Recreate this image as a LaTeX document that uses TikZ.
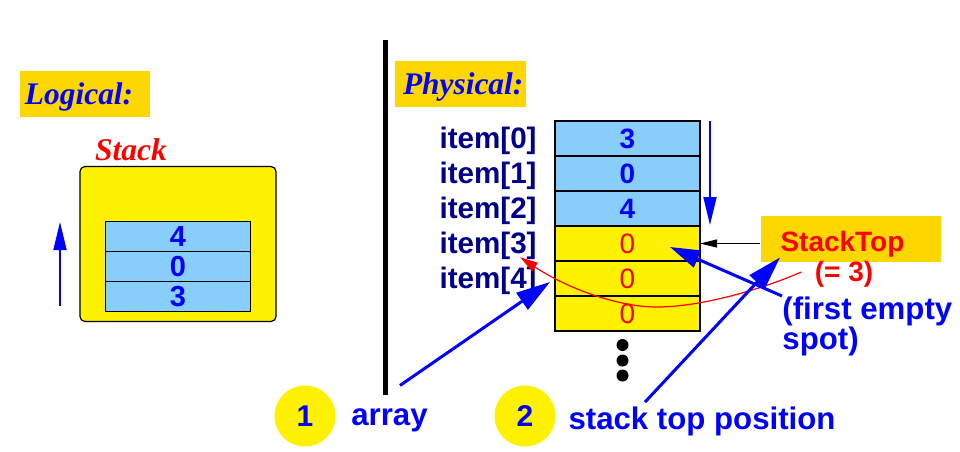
\documentclass[tikz,border=0pt]{standalone}
\usepackage{fontspec}
\setmainfont{Liberation Serif}
\setsansfont{Liberation Sans}
\usepackage{tikz}
\usetikzlibrary{arrows.meta,positioning}
\definecolor{gold}{RGB}{255,215,0}
\definecolor{cellblue}{RGB}{135,206,250}
\definecolor{itemblue}{RGB}{0,0,139}

\begin{document}
\begin{tikzpicture}[x=0.5pt,y=-0.5pt,
  >={Triangle[length=14pt,width=6.5pt]},
  heading/.style={fill=gold,text=blue,minimum height=23pt,align=left,text height=10.5pt,text depth=0pt,font=\fontsize{15.7}{18}\selectfont\bfseries\itshape},
  cell/.style={draw,line width=0.6pt,minimum width=72.5pt,minimum height=17.5pt,outer sep=0pt,inner sep=0pt},
  fullcell/.style={cell,fill=cellblue,text=blue,font=\fontsize{14}{15}\selectfont\sffamily\bfseries},
  freecell/.style={cell,fill=yellow,text=red,font=\fontsize{14}{15}\selectfont\sffamily},
  itemlbl/.style={inner sep=0pt,text=itemblue,font=\fontsize{14.8}{17}\selectfont\sffamily\bfseries},
  note/.style={inner sep=0pt,text=blue,font=\fontsize{15.6}{15}\selectfont\sffamily\bfseries},
  badge/.style={circle,fill=yellow,minimum size=30.5pt,inner sep=0pt,text=blue,font=\fontsize{15}{17}\selectfont\sffamily\bfseries},
  dot/.style={circle,fill=black,minimum size=6pt,inner sep=0pt},
  pointer/.style={->,blue,line width=0.9pt},
  fat/.style={->,>={Triangle[length=17pt,width=10pt]},blue,line width=1.5pt}]
  \useasboundingbox (0,0) rectangle (960,451);

  % logical view
  \node[heading,text width=60pt,inner xsep=2.5pt] (logical) at (85,94) {Logical:};
  \node[draw,fill=yellow,rounded corners=2.5pt,line width=0.6pt,minimum width=98pt,minimum height=77.5pt] (stackbox) at (178,244) {};
  \node[inner sep=0pt,text=red,font=\fontsize{15.8}{18}\selectfont\bfseries\itshape] (stacklbl) at (131,150) {Stack};
  \node[fullcell,minimum height=15pt,font=\fontsize{14.5}{15}\selectfont\sffamily\bfseries] (lcell1) at (178,236.5) {4};
  \node[fullcell,minimum height=15pt,font=\fontsize{14.5}{15}\selectfont\sffamily\bfseries,below=0pt of lcell1] (lcell2) {0};
  \node[fullcell,minimum height=15pt,font=\fontsize{14.5}{15}\selectfont\sffamily\bfseries,below=0pt of lcell2] (lcell3) {3};
  \coordinate (pushlo) at (60,306);
  \coordinate (pushhi) at (60,222);
  \draw[pointer] (pushlo) -- (pushhi);

  % divider
  \coordinate (divtop) at (385.5,40);
  \coordinate (divbot) at (385.5,395);
  \draw[line width=2.2pt] (divtop) -- (divbot);

  % physical view
  \node[heading,text width=57.5pt,inner xsep=4pt] (physical) at (460.5,84) {Physical:};
  \node[fullcell] (cell0) at (627.5,138.5) {3};
  \node[fullcell,below=0pt of cell0] (cell1) {0};
  \node[fullcell,below=0pt of cell1] (cell2) {4};
  \node[freecell,below=0pt of cell2] (cell3) {0};
  \node[freecell,below=0pt of cell3] (cell4) {0};
  \node[freecell,below=0pt of cell4] (cell5) {0};
  \foreach \i in {0,...,4}
    \node[itemlbl,left=9pt of cell\i,yshift=-1pt] (item\i) {item[\i]};
  \foreach \k/\y in {1/345,2/360.5,3/375.5}
    \node[dot] (dot\k) at (622.5,\y) {};
  \coordinate (scanhi) at (710,121);
  \coordinate (scanlo) at (710,225);
  \draw[pointer] (scanhi) -- (scanlo);

  % stack top pointer
  \node[fill=gold,text=red,minimum height=23pt,text width=70pt,inner xsep=10pt,align=left,text height=12.5pt,text depth=0pt,font=\fontsize{14}{16}\selectfont\sffamily\bfseries] (stacktop) at (850.5,239) {StackTop};
  \node[inner sep=0pt,text=red,font=\fontsize{14}{16}\selectfont\sffamily\bfseries] (eqthree) at (844,274) {(= 3)};
  \node[note,align=left,anchor=north west] (firstempty) at (782,296) {(first empty\\spot)};
  \draw[->,>={Triangle[length=8.5pt,width=4pt]},line width=0.5pt] (stacktop.west |- cell3.east) -- (cell3.east);
  \draw[->,>={Triangle[length=9pt,width=5pt]},red,line width=0.6pt] ([xshift=-6.5pt,yshift=1pt]eqthree.west)
     .. controls (760,290) and (700,307) .. (657,307)
     .. controls (620,307) and (570,290) .. ([xshift=-8.5pt,yshift=1.25pt]item3.south east);
  \coordinate (spot) at (670,247);
  \draw[fat,>={Triangle[length=15pt,width=9pt]}] (firstempty.north west) -- (spot);

  % captions
  \node[badge] (badge1) at (305,416) {1};
  \node[note] (arraylbl) at (389.5,420.5) {array};
  \node[badge] (badge2) at (525,416) {2};
  \node[note] (stpos) at (702,421) {stack top position};
  \draw[fat] ([xshift=5.25pt,yshift=11.5pt]arraylbl.north) -- ([xshift=-2.5pt,yshift=-1.75pt]cell4.west);
  \draw[fat] ([xshift=-28.5pt,yshift=2pt]stpos.north) -- ([xshift=10pt,yshift=2.5pt]stacktop.south west);
\end{tikzpicture}
\end{document}
